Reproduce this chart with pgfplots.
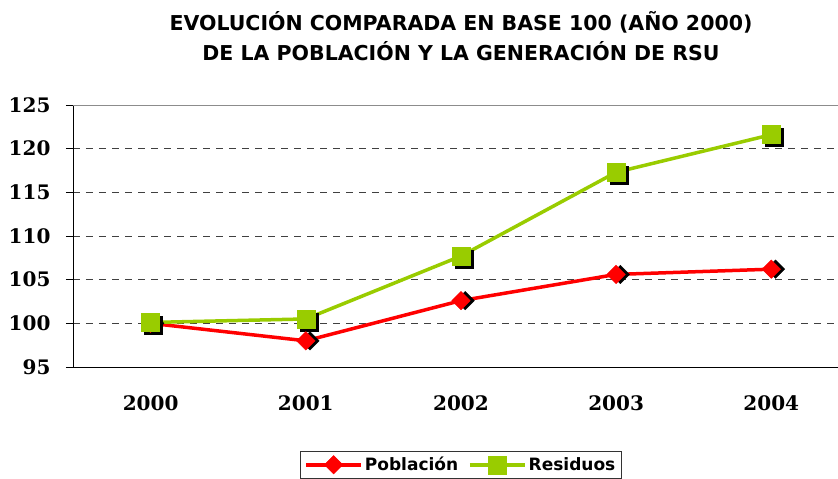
\documentclass[border=0pt]{standalone}
\usepackage{pgfplots}
\pgfplotsset{compat=1.18}
\usepackage{fontspec}
\setmainfont{DejaVu Sans}
\newfontfamily\tickfont{DejaVu Serif}
\definecolor{pob}{RGB}{255,0,0}
\definecolor{res}{RGB}{153,204,0}
\begin{document}
\begin{tikzpicture}
\begin{axis}[
  scale only axis,
  width=765pt, height=262pt,
  xmin=-0.5, xmax=4.43,
  ymin=95, ymax=125,
  ytick={95,100,...,125},
  xtick={0,1,2,3,4},
  xticklabels={2000,2001,2002,2003,2004},
  major x tick style={draw=none},
  extra x ticks={-0.5,0.5,1.5,2.5,3.5},
  extra x tick labels={},
  extra x tick style={major tick length=7pt, tick style={black, thick}, xtick align=outside},
  axis x line*=bottom,
  axis y line*=left,
  axis line style={black, thick},
  y axis line style={-}, x axis line style={-},
  tick align=outside,
  major tick length=7pt,
  tick style={black, thick},
  ymajorgrids,
  grid style={dashed, black!75, thick, dash pattern=on 7pt off 6pt},
  ticklabel style={font=\tickfont\bfseries\fontsize{20}{22}\selectfont},
  xticklabel style={yshift=-18pt},
  yticklabel style={xshift=-12pt},
  /pgf/number format/assume math mode=true,
  legend style={at={(0.507,-0.32)}, anchor=north, legend columns=2,
    draw=black!80, thick, font=\bfseries\fontsize{17}{20}\selectfont,
    /tikz/every even column/.append style={column sep=8pt},
    inner sep=4pt},
  legend image code/.code={
    \draw[#1] (0pt,0pt) -- (55pt,0pt);
    \draw[#1, mark repeat=1] plot coordinates {(27.5pt,0pt)};
  },
  clip=false,
]
\draw[black!45, thick] (rel axis cs:0,1) -- (rel axis cs:1.02,1);
% shadows
\addplot[forget plot, draw=none, mark=square*, mark size=6.5pt,
  mark options={fill=black, draw=black, rotate=45, xshift=3pt, yshift=-3pt}]
  coordinates {(0,100.0) (1,98.0) (2,102.6) (3,105.6) (4,106.2)};
\addplot[forget plot, draw=none, mark=square*, mark size=9pt,
  mark options={fill=black, draw=black, xshift=3pt, yshift=-3pt}]
  coordinates {(0,100.1) (1,100.5) (2,107.7) (3,117.3) (4,121.6)};
% series
\addplot[pob, line width=3.5pt, mark=square*, mark size=6.5pt,
  mark options={fill=pob, draw=pob, rotate=45, line width=0.5pt}]
  coordinates {(0,100.0) (1,98.0) (2,102.6) (3,105.6) (4,106.2)};
\addlegendentry{Población}
\addplot[res, line width=3.5pt, mark=square*, mark size=9pt,
  mark options={fill=res, draw=res, line width=0.5pt}]
  coordinates {(0,100.1) (1,100.5) (2,107.7) (3,117.3) (4,121.6)};
\addlegendentry{Residuos}
\end{axis}
\node[font=\bfseries\fontsize{20.5}{30}\selectfont, align=center, anchor=north]
  at ([xshift=461pt-73pt-382.5pt, yshift=105pt-8pt]current axis.north)
  {EVOLUCIÓN COMPARADA EN BASE 100 (AÑO 2000)\\DE LA POBLACIÓN Y LA GENERACIÓN DE RSU};
\pgfresetboundingbox
\path ([xshift=-73pt, yshift=-112pt]current axis.south west) rectangle ([yshift=105pt]current axis.north east);
\end{tikzpicture}
\end{document}
